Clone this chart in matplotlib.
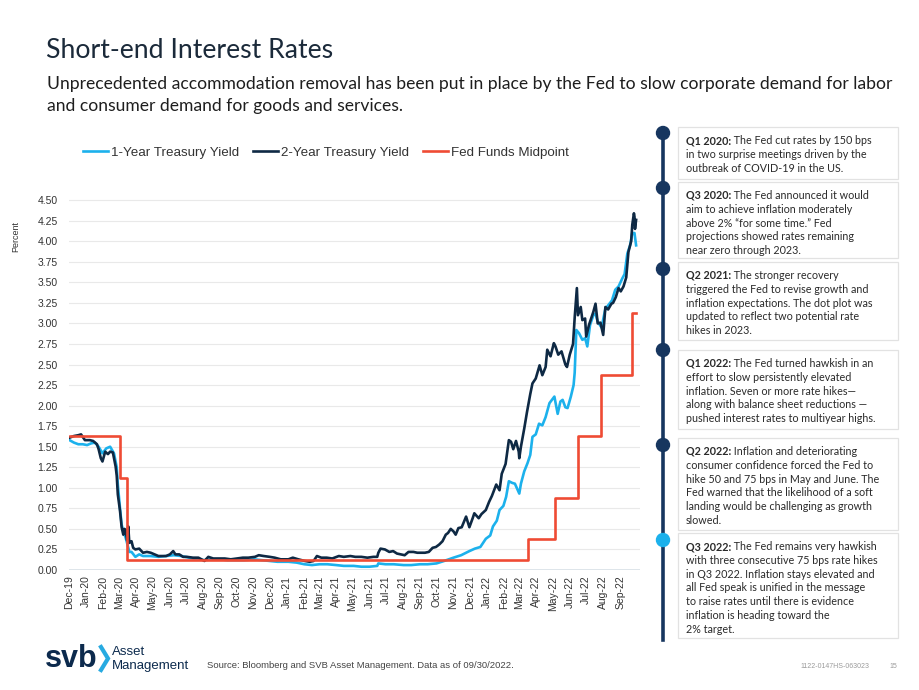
import pandas as pd
import matplotlib
matplotlib.use('Agg')
import matplotlib.pyplot as plt
import matplotlib.dates as mdates
from matplotlib.patches import Rectangle, Circle
from matplotlib.lines import Line2D

plt.rcParams['font.family'] = ['Liberation Sans', 'DejaVu Sans']

# ---- data ----
dates_2y = ['2019-12-02', '2019-12-10', '2019-12-18', '2019-12-23', '2019-12-30', '2020-01-08', '2020-01-14',
            '2020-01-21', '2020-01-24', '2020-01-28', '2020-01-31', '2020-02-05', '2020-02-10', '2020-02-14',
            '2020-02-19', '2020-02-21', '2020-02-24', '2020-02-26', '2020-02-28', '2020-03-03', '2020-03-06',
            '2020-03-09', '2020-03-11', '2020-03-13', '2020-03-16', '2020-03-18', '2020-03-20', '2020-03-24',
            '2020-03-27', '2020-03-31', '2020-04-07', '2020-04-14', '2020-04-21', '2020-04-28', '2020-05-05',
            '2020-05-12', '2020-05-19', '2020-05-26', '2020-06-02', '2020-06-08', '2020-06-12', '2020-06-19',
            '2020-06-26', '2020-07-03', '2020-07-14', '2020-07-24', '2020-08-04', '2020-08-11', '2020-08-20',
            '2020-08-31', '2020-09-10', '2020-09-21', '2020-10-02', '2020-10-13', '2020-10-23', '2020-11-04',
            '2020-11-11', '2020-11-20', '2020-12-01', '2020-12-10', '2020-12-21', '2021-01-04', '2021-01-12',
            '2021-01-22', '2021-02-03', '2021-02-12', '2021-02-19', '2021-02-25', '2021-03-05', '2021-03-15',
            '2021-03-25', '2021-04-06', '2021-04-15', '2021-04-27', '2021-05-06', '2021-05-17', '2021-05-28',
            '2021-06-08', '2021-06-15', '2021-06-17', '2021-06-21', '2021-06-29', '2021-07-07', '2021-07-14',
            '2021-07-21', '2021-07-28', '2021-08-04', '2021-08-11', '2021-08-20', '2021-08-27', '2021-09-03',
            '2021-09-10', '2021-09-17', '2021-09-24', '2021-09-30', '2021-10-06', '2021-10-12', '2021-10-18',
            '2021-10-22', '2021-10-27', '2021-11-01', '2021-11-05', '2021-11-10', '2021-11-16', '2021-11-24',
            '2021-11-30', '2021-12-06', '2021-12-09', '2021-12-17', '2021-12-22', '2021-12-30', '2022-01-05',
            '2022-01-10', '2022-01-18', '2022-01-24', '2022-01-28', '2022-02-04', '2022-02-10', '2022-02-14',
            '2022-02-18', '2022-02-23', '2022-02-28', '2022-03-01', '2022-03-04', '2022-03-10', '2022-03-15',
            '2022-03-21', '2022-03-25', '2022-03-31', '2022-04-04', '2022-04-07', '2022-04-12', '2022-04-18',
            '2022-04-21', '2022-04-27', '2022-05-03', '2022-05-06', '2022-05-11', '2022-05-17', '2022-05-24',
            '2022-05-27', '2022-06-01', '2022-06-07', '2022-06-10', '2022-06-14', '2022-06-16', '2022-06-21',
            '2022-06-24', '2022-06-29', '2022-07-01', '2022-07-06', '2022-07-11', '2022-07-14', '2022-07-18',
            '2022-07-22', '2022-07-27', '2022-08-01', '2022-08-05', '2022-08-10', '2022-08-16', '2022-08-19',
            '2022-08-24', '2022-08-29', '2022-09-02', '2022-09-07', '2022-09-12', '2022-09-16', '2022-09-21',
            '2022-09-23', '2022-09-26', '2022-09-27', '2022-09-28', '2022-09-29', '2022-09-30']
yld_2y = [1.61, 1.63, 1.64, 1.65, 1.58, 1.58, 1.57,
          1.53, 1.47, 1.36, 1.32, 1.44, 1.41, 1.44,
          1.43, 1.36, 1.26, 1.15, 0.92, 0.72, 0.52,
          0.43, 0.50, 0.49, 0.36, 0.53, 0.33, 0.35,
          0.27, 0.25, 0.26, 0.21, 0.22, 0.21, 0.19,
          0.17, 0.17, 0.17, 0.19, 0.23, 0.19, 0.19,
          0.16, 0.16, 0.15, 0.15, 0.11, 0.16, 0.14,
          0.14, 0.14, 0.13, 0.14, 0.15, 0.15, 0.16,
          0.18, 0.17, 0.16, 0.15, 0.13, 0.13, 0.15,
          0.13, 0.11, 0.10, 0.11, 0.17, 0.15, 0.15,
          0.14, 0.17, 0.16, 0.17, 0.16, 0.16, 0.15,
          0.16, 0.16, 0.21, 0.26, 0.25, 0.22, 0.23,
          0.20, 0.19, 0.18, 0.22, 0.22, 0.21, 0.21,
          0.21, 0.22, 0.27, 0.28, 0.31, 0.35, 0.43,
          0.45, 0.50, 0.47, 0.43, 0.51, 0.52, 0.65,
          0.52, 0.63, 0.69, 0.63, 0.68, 0.73, 0.83,
          0.90, 1.04, 0.97, 1.17, 1.29, 1.58, 1.56,
          1.47, 1.57, 1.44, 1.36, 1.50, 1.72, 1.92,
          2.14, 2.27, 2.33, 2.42, 2.49, 2.37, 2.47,
          2.68, 2.60, 2.76, 2.72, 2.62, 2.66, 2.50,
          2.47, 2.62, 2.75, 3.07, 3.43, 3.10, 3.20,
          3.04, 3.06, 2.84, 2.98, 3.08, 3.14, 3.24,
          3.00, 3.01, 2.86, 3.20, 3.17, 3.24, 3.25,
          3.32, 3.43, 3.39, 3.45, 3.56, 3.87, 4.00,
          4.20, 4.34, 4.30, 4.15, 4.20, 4.26]

dates_1y = ['2019-12-02', '2019-12-10', '2019-12-18', '2019-12-26', '2020-01-03', '2020-01-10', '2020-01-17',
            '2020-01-24', '2020-01-31', '2020-02-07', '2020-02-14', '2020-02-21', '2020-02-26', '2020-02-28',
            '2020-03-03', '2020-03-06', '2020-03-10', '2020-03-13', '2020-03-17', '2020-03-20', '2020-03-24',
            '2020-03-31', '2020-04-07', '2020-04-14', '2020-04-21', '2020-04-28', '2020-05-12', '2020-05-26',
            '2020-06-09', '2020-06-23', '2020-07-07', '2020-07-21', '2020-08-04', '2020-08-18', '2020-09-01',
            '2020-09-15', '2020-10-01', '2020-10-15', '2020-11-02', '2020-11-16', '2020-12-01', '2020-12-15',
            '2021-01-04', '2021-01-19', '2021-02-02', '2021-02-16', '2021-03-02', '2021-03-16', '2021-04-01',
            '2021-04-15', '2021-05-03', '2021-05-17', '2021-06-01', '2021-06-15', '2021-06-17', '2021-06-30',
            '2021-07-15', '2021-08-02', '2021-08-16', '2021-09-01', '2021-09-15', '2021-10-01', '2021-10-15',
            '2021-11-01', '2021-11-15', '2021-11-30', '2021-12-10', '2021-12-20', '2021-12-30', '2022-01-07',
            '2022-01-12', '2022-01-19', '2022-01-24', '2022-01-31', '2022-02-05', '2022-02-10', '2022-02-16',
            '2022-02-21', '2022-03-01', '2022-03-04', '2022-03-10', '2022-03-16', '2022-03-21', '2022-03-25',
            '2022-03-31', '2022-04-06', '2022-04-12', '2022-04-18', '2022-04-25', '2022-05-04', '2022-05-10',
            '2022-05-15', '2022-05-19', '2022-05-24', '2022-05-28', '2022-06-03', '2022-06-08', '2022-06-10',
            '2022-06-13', '2022-06-18', '2022-06-24', '2022-06-29', '2022-07-03', '2022-07-08', '2022-07-14',
            '2022-07-18', '2022-07-22', '2022-07-29', '2022-08-05', '2022-08-10', '2022-08-17', '2022-08-23',
            '2022-08-29', '2022-09-05', '2022-09-09', '2022-09-14', '2022-09-19', '2022-09-23', '2022-09-27',
            '2022-09-30']
yld_1y = [1.58, 1.55, 1.53, 1.53, 1.52, 1.54, 1.55,
          1.50, 1.42, 1.48, 1.50, 1.42, 1.25, 1.04,
          0.75, 0.55, 0.45, 0.40, 0.30, 0.22, 0.22,
          0.16, 0.19, 0.17, 0.17, 0.17, 0.16, 0.17,
          0.18, 0.17, 0.15, 0.13, 0.12, 0.13, 0.13,
          0.12, 0.12, 0.12, 0.13, 0.12, 0.11, 0.10,
          0.10, 0.09, 0.07, 0.06, 0.07, 0.07, 0.06,
          0.05, 0.05, 0.04, 0.04, 0.05, 0.08, 0.07,
          0.07, 0.06, 0.06, 0.07, 0.07, 0.08, 0.11,
          0.15, 0.18, 0.23, 0.26, 0.28, 0.38, 0.42,
          0.53, 0.60, 0.73, 0.78, 0.89, 1.08, 1.06,
          1.05, 0.93, 1.05, 1.20, 1.30, 1.40, 1.62,
          1.65, 1.78, 1.76, 1.86, 2.03, 2.11, 1.90,
          2.05, 2.07, 1.98, 1.97, 2.11, 2.25, 2.40,
          2.92, 2.88, 2.80, 2.82, 2.72, 2.98, 3.10,
          3.12, 3.02, 2.95, 3.18, 3.22, 3.28, 3.41,
          3.45, 3.55, 3.60, 3.85, 3.95, 4.10, 4.10,
          3.95]

dates_ff = ['2019-12-02', '2020-03-03', '2020-03-16', '2022-03-17', '2022-05-05',
            '2022-06-16', '2022-07-28', '2022-09-22', '2022-09-30']
fed_mid = [1.625, 1.125, 0.125, 0.375, 0.875, 1.625, 2.375, 3.125, 3.125]

y_ticks = [0.0, 0.25, 0.5, 0.75, 1.0, 1.25, 1.5, 1.75, 2.0, 2.25, 2.5, 2.75, 3.0, 3.25, 3.5, 3.75, 4.0, 4.25, 4.5]
x_ticks = pd.date_range('2019-12-01', '2022-09-01', freq='MS')

notes = [
    ('Q1 2020:', [' The Fed cut rates by 150 bps', 'in two surprise meetings driven by the',
                  'outbreak of COVID-19 in the US.']),
    ('Q3 2020:', [' The Fed announced it would', 'aim to achieve inflation moderately',
                  'above 2% \u201cfor some time.\u201d Fed', 'projections showed rates remaining',
                  'near zero through 2023.']),
    ('Q2 2021:', [' The stronger recovery', 'triggered the Fed to revise growth and',
                  'inflation expectations. The dot plot was', 'updated to reflect two potential rate',
                  'hikes in 2023.']),
    ('Q1 2022:', [' The Fed turned hawkish in an', 'effort to slow persistently elevated',
                  'inflation. Seven or more rate hikes\u2014', 'along with balance sheet reductions \u2014',
                  'pushed interest rates to multiyear highs.']),
    ('Q2 2022:', [' Inflation and deteriorating', 'consumer confidence forced the Fed to',
                  'hike 50 and 75 bps in May and June. The', 'Fed warned that the likelihood of a soft',
                  'landing would be challenging as growth', 'slowed.']),
    ('Q3 2022:', [' The Fed remains very hawkish', 'with three consecutive 75 bps rate hikes',
                  'in Q3 2022. Inflation stays elevated and', 'all Fed speak is unified in the message',
                  'to raise rates until there is evidence', 'inflation is heading toward the',
                  '2% target.']),
]
# box top / bottom and timeline dot (pixels)
box_top = [127, 182, 262, 350, 438, 533]
box_bot = [179, 258, 340, 429, 530, 638]
dot_y = [133, 188, 269, 350, 445, 540]

c_1y = '#1cb1ec'
c_2y = '#0e2944'
c_ff = '#ef4b34'
navy = '#17365f'

W, H = 920, 690
fig = plt.figure(figsize=(9.2, 6.9), dpi=100)

# ---- main chart ----
ax = fig.add_axes([69 / W, 1 - 570 / H, (640.5 - 69) / W, 371.5 / H])
ax.plot(pd.to_datetime(dates_1y), yld_1y, color=c_1y, lw=1.9, label='1-Year Treasury Yield')
ax.plot(pd.to_datetime(dates_2y), yld_2y, color=c_2y, lw=1.9, label='2-Year Treasury Yield')
ax.plot(pd.to_datetime(dates_ff), fed_mid, color=c_ff, lw=1.9, drawstyle='steps-post',
        label='Fed Funds Midpoint')

ax.set_xlim(pd.Timestamp('2019-12-01'), pd.Timestamp('2022-10-08'))
ax.set_ylim(0, 4.52)
ax.set_yticks(y_ticks)
ax.yaxis.set_major_formatter(matplotlib.ticker.FormatStrFormatter('%.2f'))
ax.set_xticks(x_ticks)
ax.xaxis.set_major_formatter(mdates.DateFormatter('%b-%y'))
ax.tick_params(axis='x', labelrotation=90, labelsize=7.5, length=0, pad=4, labelcolor='#333333')
ax.tick_params(axis='y', labelsize=7.5, length=0, pad=8, labelcolor='#333333')
ax.grid(axis='y', color='#e9e9e9', lw=0.8)
ax.set_axisbelow(True)
for s in ax.spines.values():
    s.set_visible(False)
ax.axhline(0, color='#d8e0e8', lw=1.2, zorder=0.5)

fig.legend(loc='center', bbox_to_anchor=(326 / W, 1 - 153 / H), ncol=3, frameon=False,
           fontsize=9.6, handlelength=1.9, handletextpad=0.25, columnspacing=1.0,
           labelcolor='#333333')
fig.text(16 / W, 1 - 236 / H, 'Percent', rotation=90, fontsize=6.5, ha='center', va='center',
         color='#333333')

# ---- overlay in pixel coordinates ----
ov = fig.add_axes([0, 0, 1, 1], zorder=-1)
ov.set_xlim(0, W)
ov.set_ylim(H, 0)
ov.axis('off')

head = ['Lato', 'DejaVu Sans']
ov.text(46, 50, 'Short-end Interest Rates', fontsize=19.2, family=head, color='#1b2a3a', va='center')
ov.text(47, 84, 'Unprecedented accommodation removal has been put in place by the Fed to slow '
        'corporate demand for labor', fontsize=12.6, family=head, color='#1e1e1e', va='center')
ov.text(47, 106, 'and consumer demand for goods and services.', fontsize=12.6, family=head,
        color='#1e1e1e', va='center')

# timeline
ov.add_line(Line2D([663, 663], [133, 640], color=navy, lw=2.6, zorder=2))
for i, yy in enumerate(dot_y):
    ov.add_patch(Circle((663, yy), 6.5, color=c_1y if i == len(dot_y) - 1 else navy, zorder=3))

renderer = fig.canvas.get_renderer()
fs_note = 7.75
for (lead, lines), top, bot in zip(notes, box_top, box_bot):
    ov.add_patch(Rectangle((678, top), 220, bot - top, facecolor='white', edgecolor='#e2e2e2',
                           lw=0.9, zorder=1))
    y0 = top + 13.5
    t = ov.text(686, y0, lead, fontsize=fs_note, family=head, weight='bold', color='#2a2a2a',
                va='center', zorder=4)
    w = t.get_window_extent(renderer).width
    ov.text(686 + w, y0, lines[0], fontsize=fs_note, family=head, color='#2a2a2a', va='center',
            zorder=4)
    for k, ln in enumerate(lines[1:], start=1):
        ov.text(686, y0 + k * 13.8, ln, fontsize=fs_note, family=head, color='#2a2a2a',
                va='center', zorder=4)

# footer
ov.text(45, 659, 'svb', fontsize=22, weight='bold', color='#0c2a4d', va='center')
ov.add_line(Line2D([101, 108, 101], [647, 658.5, 670], color='#27aae1', lw=3,
                   solid_joinstyle='miter'))
ov.text(112, 652, 'Asset', fontsize=9.5, color='#0c2a4d', va='center')
ov.text(112, 666, 'Management', fontsize=9.5, color='#0c2a4d', va='center')
ov.text(207, 666, 'Source: Bloomberg and SVB Asset Management. Data as of 09/30/2022.',
        fontsize=6.8, color='#444444', va='center')
ov.text(800, 666, '1122-0147HS-063023', fontsize=5, color='#9a9a9a', va='center')
ov.text(889, 666, '15', fontsize=5, color='#9a9a9a', va='center')

fig.savefig('out.png', dpi=100)
